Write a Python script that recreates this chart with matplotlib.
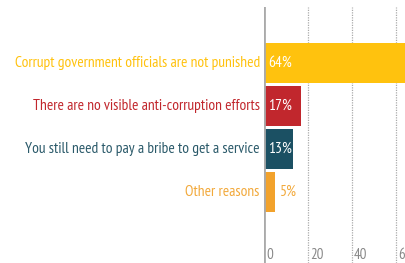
import matplotlib
matplotlib.use("Agg")
import matplotlib.pyplot as plt
from matplotlib import font_manager

names = {f.name for f in font_manager.fontManager.ttflist}
font = "DejaVu Sans"
for cand in ["PT Sans Narrow", "Liberation Sans Narrow", "Roboto Condensed", "Open Sans Condensed"]:
    if cand in names:
        font = cand
        break
plt.rcParams['font.family'] = [font, 'DejaVu Sans']

categories = [
    "Corrupt government officials are not punished",
    "There are no visible anti-corruption efforts",
    "You still need to pay a bribe to get a service",
    "Other reasons",
]
values = [64, 17, 13, 5]
bar_colors = ["#FFC20E", "#C1272D", "#1B5063", "#F2A22C"]
label_colors = ["#FFC20E", "#C1272D", "#2B5A6A", "#F2A93B"]
xticks = [0, 20, 40, 60]

fig = plt.figure(figsize=(4.06, 2.63), dpi=100)
ax = fig.add_axes([264 / 406, 0, 1 - 264 / 406, 1 - 7 / 263])

ypos = list(range(len(values)))
ax.barh(ypos, values, height=0.93, color=bar_colors, zorder=2)

ax.set_xlim(0, 64.5)
ax.set_ylim(4.651, -1.302)

for x in xticks[1:]:
    ax.axvline(x, color="#aaaaaa", lw=0.9, ls=(0, (1, 1)), zorder=1)
ax.axvline(0, color="#aaaaaa", lw=2, zorder=3)

size = 11.2 if font != "DejaVu Sans" else 8
for i, (cat, v) in enumerate(zip(categories, values)):
    ax.annotate(cat, (0, i), xytext=(-3, 0), textcoords="offset points",
                ha="right", va="center", fontsize=size, color=label_colors[i],
                annotation_clip=False)
    if v > 8:
        ax.annotate(f"{v}%", (0, i), xytext=(3, 0), textcoords="offset points",
                    ha="left", va="center", fontsize=size, color="white", zorder=4)
    else:
        ax.annotate(f"{v}%", (v, i), xytext=(3.5, 0), textcoords="offset points",
                    ha="left", va="center", fontsize=size, color=label_colors[i], zorder=4)

for t in xticks:
    ax.annotate(str(t), (t, 4.465), xytext=(1.5, 0), textcoords="offset points",
                ha="left", va="center", fontsize=size - 0.5, color="#888888")

ax.set_xticks([])
ax.set_yticks([])
for s in ax.spines.values():
    s.set_visible(False)

fig.savefig("out.png", dpi=100)
